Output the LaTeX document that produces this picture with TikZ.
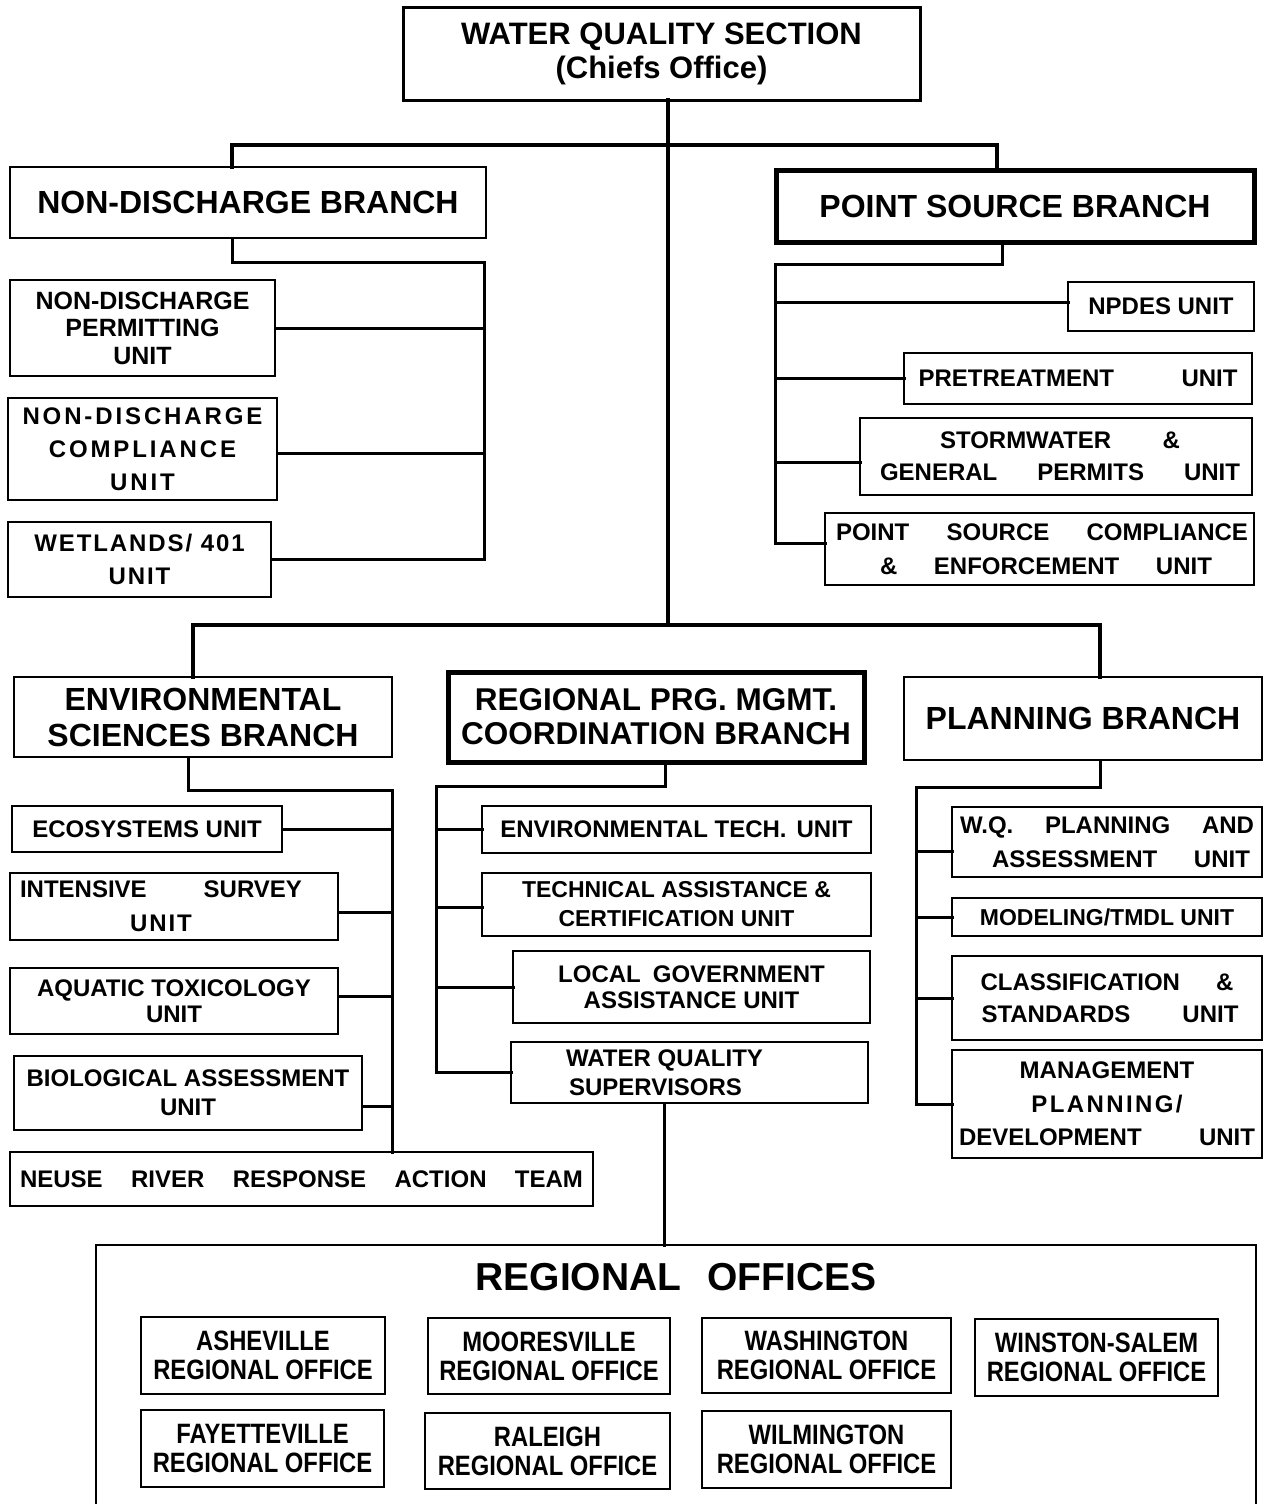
\documentclass[tikz,border=0pt]{standalone}
\usepackage{fontspec}
\setmainfont{Liberation Sans}
\newfontfamily\narrowfont{Liberation Sans}[FakeStretch=0.85]
\tikzset{
  box/.style={draw, line width=2.5pt, inner sep=0pt, outer sep=0pt, align=center,
    font=\bfseries\fontsize{24}{28}\selectfont},
  thickbox/.style={line width=5pt},
  branch/.style={font=\bfseries\fontsize{32}{36}\selectfont},
  office/.style={line width=2pt, font=\narrowfont\bfseries\fontsize{28}{29}\selectfont},
  conn/.style={line width=3pt, line cap=rect, line join=miter},
  mainconn/.style={line width=4pt, line cap=rect, line join=miter},
}
\newcommand\orgbox[7][]{\node[box,minimum width={#5-#3},minimum height={#6-#4},#1] (#2) at ({(#3+#5)/2},{(#4+#6)/2}) {#7};}
\begin{document}
\begin{tikzpicture}[x=1pt,y=-1pt]
\clip (0,0) rectangle (1264,1504);
\fill[white] (0,0) rectangle (1264,1504);

% top
\orgbox[line width=3pt,font=\bfseries\fontsize{31}{34}\selectfont]{top}{403}{8}{920}{100}{WATER QUALITY SECTION\\(Chiefs Office)}

% branches
\orgbox[branch]{ndb}{10}{167}{486}{238}{NON-DISCHARGE BRANCH}
\orgbox[branch,thickbox]{psb}{776}{170}{1254}{242}{POINT SOURCE BRANCH}
\orgbox[branch]{esb}{14}{677}{392}{757}{ENVIRONMENTAL\\SCIENCES BRANCH}
\orgbox[branch,thickbox,font=\bfseries\fontsize{31.5}{34}\selectfont]{rpb}{448}{672}{864}{762}{REGIONAL PRG. MGMT.\\COORDINATION BRANCH}
\orgbox[branch]{plb}{904}{677}{1262}{760}{PLANNING BRANCH}

% non-discharge units
\orgbox[font=\bfseries\fontsize{25}{27.5}\selectfont]{ndp}{10}{280}{275}{376}{NON-DISCHARGE\\PERMITTING\\UNIT}
\orgbox[font=\bfseries\fontsize{24}{33}\selectfont\addfontfeature{LetterSpace=12}]{ndc}{8}{398}{277}{500}{NON-DISCHARGE\\COMPLIANCE\\UNIT}
\orgbox[font=\bfseries\fontsize{24}{33}\selectfont\addfontfeature{LetterSpace=8}]{ndw}{8}{522}{271}{597}{WETLANDS/ 401\\UNIT}

% point source units
\orgbox{npdes}{1068}{282}{1254}{331}{NPDES UNIT}
\orgbox{pret}{904}{353}{1252}{404}{\makebox[319pt][s]{PRETREATMENT\hfill UNIT}}
\orgbox[font=\bfseries\fontsize{24}{32}\selectfont]{storm}{860}{418}{1252}{495}{\hspace*{8pt}\makebox[240pt][s]{STORMWATER\hfill\&}\\\hspace*{8pt}\makebox[360pt][s]{GENERAL\hfill PERMITS\hfill UNIT}}
\orgbox[font=\bfseries\fontsize{24}{34}\selectfont]{psc}{825}{513}{1254}{585}{\hspace*{5pt}\makebox[412pt][s]{POINT\hfill SOURCE\hfill COMPLIANCE}\\\hspace*{13pt}\makebox[332pt][s]{\&\hfill ENFORCEMENT\hfill UNIT}}

% environmental sciences units
\orgbox{eco}{12}{806}{282}{852}{ECOSYSTEMS UNIT}
\orgbox[font=\bfseries\fontsize{24}{34}\selectfont]{intens}{10}{873}{338}{940}{\hspace*{-26pt}\makebox[282pt][s]{INTENSIVE\hfill SURVEY}\\\hspace*{-26pt}{\addfontfeature{LetterSpace=8}UNIT}}
\orgbox[font=\bfseries\fontsize{24}{26}\selectfont]{aqua}{10}{968}{338}{1034}{AQUATIC TOXICOLOGY\\UNIT}
\orgbox[font=\bfseries\fontsize{24}{29}\selectfont]{bio}{14}{1056}{362}{1130}{BIOLOGICAL ASSESSMENT\\UNIT}
\orgbox{neuse}{10}{1152}{593}{1206}{\makebox[563pt][s]{NEUSE\hfill RIVER\hfill RESPONSE\hfill ACTION\hfill TEAM}}

% regional program units
\orgbox{etech}{482}{806}{871}{853}{ENVIRONMENTAL TECH.\hspace{10pt}UNIT}
\orgbox[font=\bfseries\fontsize{23}{29}\selectfont]{tacu}{482}{873}{871}{936}{TECHNICAL ASSISTANCE \&\\CERTIFICATION UNIT}
\orgbox[font=\bfseries\fontsize{24}{26}\selectfont]{lgau}{513}{951}{870}{1023}{LOCAL\hspace{12pt}GOVERNMENT\\ASSISTANCE UNIT}
\orgbox[font=\bfseries\fontsize{24}{29}\selectfont]{wqs}{511}{1042}{868}{1103}{\hspace*{-50pt}WATER QUALITY\\\hspace*{-50pt}SUPERVISORS\hspace*{18pt}}

% planning units
\orgbox[font=\bfseries\fontsize{24}{34}\selectfont]{wqpa}{952}{807}{1262}{877}{\makebox[294pt][s]{W.Q.\hfill PLANNING\hfill AND}\\\hspace*{28pt}\makebox[258pt][s]{ASSESSMENT\hfill UNIT}}
\orgbox[font=\bfseries\fontsize{23}{28}\selectfont]{model}{952}{898}{1262}{936}{MODELING/TMDL UNIT}
\orgbox[font=\bfseries\fontsize{24}{32}\selectfont]{class}{952}{956}{1262}{1040}{\makebox[253pt][s]{CLASSIFICATION\hfill\&}\\\hspace*{6pt}\makebox[257pt][s]{STANDARDS\hfill UNIT}}
\orgbox[font=\bfseries\fontsize{24}{33.5}\selectfont]{mgmt}{952}{1050}{1262}{1158}{MANAGEMENT\\{\addfontfeature{LetterSpace=10}PLANNING/}\\\makebox[296pt][s]{DEVELOPMENT\hfill UNIT}}

% regional offices
\orgbox{ro}{96}{1245}{1256}{1530}{}
\node[font=\bfseries\fontsize{39}{40}\selectfont] (rotitle) at (676,1277) {REGIONAL\hspace{26pt}OFFICES};
\orgbox[office]{ash}{141}{1317}{385}{1394}{ASHEVILLE\\REGIONAL OFFICE}
\orgbox[office]{moo}{428}{1318}{670}{1394}{MOORESVILLE\\REGIONAL OFFICE}
\orgbox[office]{was}{702}{1318}{951}{1393}{WASHINGTON\\REGIONAL OFFICE}
\orgbox[office]{win}{975}{1319}{1218}{1396}{WINSTON-SALEM\\REGIONAL OFFICE}
\orgbox[office]{fay}{141}{1410}{384}{1487}{FAYETTEVILLE\\REGIONAL OFFICE}
\orgbox[office]{ral}{425}{1413}{670}{1489}{RALEIGH\\REGIONAL OFFICE}
\orgbox[office]{wil}{702}{1411}{951}{1488}{WILMINGTON\\REGIONAL OFFICE}

% main connectors
\coordinate (j1) at (668,145);
\coordinate (j2) at (668,625);
\draw[mainconn] ([xshift=6.5]top.south) -- (j2);
\draw[mainconn] ([xshift=-16]ndb.north) |- (j1) -| ([xshift=-18]psb.north);
\draw[mainconn] ([xshift=-10]esb.north) |- (j2) -| ([xshift=17]plb.north);

% non-discharge subtree
\coordinate (ndbus) at (484,262);
\coordinate (ndcin) at ([yshift=-4]ndc.east);
\draw[conn] ([xshift=-16]ndb.south) |- (ndbus) -- (ndbus |- ndw.east) -- (ndw.east);
\draw[conn] (ndp.east) -- (ndp.east -| ndbus);
\draw[conn] (ndcin) -- (ndcin -| ndbus);

% point source subtree
\coordinate (psbus) at (775,264);
\coordinate (pscin) at ([yshift=6]psc.west);
\coordinate (npdesin) at ([yshift=4]npdes.west);
\coordinate (stormin) at ([yshift=-6]storm.west);
\draw[conn] ([xshift=-13]psb.south) |- (psbus) -- (psbus |- pscin) -- (pscin);
\draw[conn] (npdesin) -- (npdesin -| psbus);
\draw[conn] (pret.west) -- (pret.west -| psbus);
\draw[conn] (stormin) -- (stormin -| psbus);

% environmental sciences subtree
\coordinate (esbus) at (392,790);
\coordinate (intensin) at ([yshift=-6]intens.east);
\coordinate (aquain) at ([yshift=5]aqua.east);
\coordinate (bioin) at ([yshift=-13]bio.east);
\draw[conn] ([xshift=-15]esb.south) |- (esbus) -- (esbus |- neuse.north);
\draw[conn] (eco.east) -- (eco.east -| esbus);
\draw[conn] (intensin) -- (intensin -| esbus);
\draw[conn] (aquain) -- (aquain -| esbus);
\draw[conn] (bioin) -- (bioin -| esbus);

% regional program subtree
\coordinate (rpbus) at (436,786);
\coordinate (tacuin) at ([yshift=-3]tacu.west);
\coordinate (wqsout) at ([xshift=-25]wqs.south);
\draw[conn] ([xshift=9]rpb.south) |- (rpbus) -- (rpbus |- wqs.west) -- (wqs.west);
\draw[conn] (etech.west) -- (etech.west -| rpbus);
\draw[conn] (tacuin) -- (tacuin -| rpbus);
\draw[conn] (lgau.west) -- (lgau.west -| rpbus);
\draw[conn] (wqsout) -- (wqsout |- ro.north);

% planning subtree
\coordinate (plbus) at (916,787);
\coordinate (wqpain) at ([yshift=-9]wqpa.west);
\draw[conn] ([xshift=17]plb.south) |- (plbus) -- (plbus |- mgmt.west) -- (mgmt.west);
\draw[conn] (wqpain) -- (wqpain -| plbus);
\draw[conn] (model.west) -- (model.west -| plbus);
\draw[conn] (class.west) -- (class.west -| plbus);
\end{tikzpicture}
\end{document}
